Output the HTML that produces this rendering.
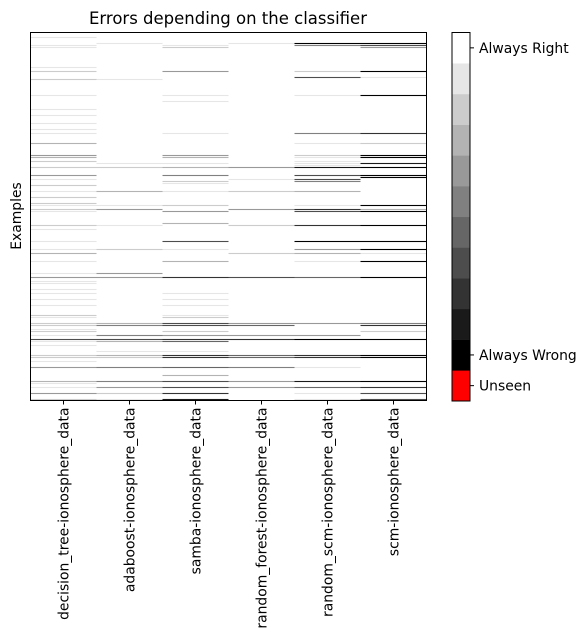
<!DOCTYPE html>
<html><head><meta charset="utf-8"><style>
html,body{margin:0;padding:0;background:#fff;}
svg{display:block;font-family:"DejaVu Sans","Liberation Sans",sans-serif;}
</style></head><body>
<svg id="chart" width="588" height="643" viewBox="0 0 588 643">
<text x="228" y="24" text-anchor="middle" font-size="16.5">Errors depending on the classifier</text>
<text transform="translate(21,216) rotate(-90)" text-anchor="middle" font-size="13.9">Examples</text>
<g id="cells"></g>
<rect x="30.5" y="32.5" width="396" height="368" fill="none" stroke="#000" stroke-width="1"/>
<g id="xticks"></g>
<g id="cbar"></g>
</svg>
<script>
const classifiers = ["decision_tree-ionosphere_data","adaboost-ionosphere_data","samba-ionosphere_data","random_forest-ionosphere_data","random_scm-ionosphere_data","scm-ionosphere_data"];
const nRows = 184;
// per classifier: [rowIndex, level] ; level 0 = always wrong ... 10 = always right
const colDecisionTree = [[2,9],[6,9],[7,9],[17,9],[19,8],[23,8],[31,9],[38,9],[41,9],[45,9],[48,9],[50,9],[55,7],[61,6],[62,7],[64,8],[67,8],[71,6],[73,9],[76,8],[79,9],[82,8],[85,8],[86,9],[88,8],[89,9],[96,8],[98,9],[104,9],[108,9],[110,7],[114,9],[120,9],[122,6],[124,9],[125,9],[128,9],[130,9],[133,9],[136,9],[141,8],[142,9],[145,8],[146,8],[148,9],[149,8],[151,9],[153,3],[154,9],[156,9],[161,8],[162,8],[164,9],[167,6],[174,7],[175,9],[177,9],[180,6],[183,8]];
const colAdaboost = [[5,9],[23,9],[65,9],[67,8],[79,7],[86,9],[88,6],[96,9],[108,8],[120,6],[122,6],[145,7],[146,5],[151,5],[153,3],[154,7],[159,9],[161,7],[162,8],[167,5],[174,5],[177,6],[180,8],[183,9]];
const colSamba = [[6,9],[7,8],[19,6],[31,9],[34,9],[50,9],[61,6],[62,7],[65,9],[67,7],[71,5],[74,8],[75,9],[79,9],[86,8],[89,6],[95,7],[104,3],[108,9],[114,7],[122,2],[130,9],[133,9],[136,9],[141,9],[142,8],[145,3],[146,3],[149,8],[151,6],[153,2],[154,4],[159,9],[161,2],[162,2],[167,4],[171,7],[174,3],[177,3],[180,2],[183,1]];
const colRandomForest = [[5,9],[67,6],[73,9],[79,8],[88,6],[96,8],[110,8],[122,3],[145,6],[146,4],[151,6],[153,2],[161,4],[162,4],[167,5],[174,6],[177,6]];
const colRandomScm = [[5,0],[6,5],[19,8],[22,3],[31,9],[50,5],[55,9],[61,8],[62,9],[64,9],[65,9],[66,9],[67,1],[71,3],[73,3],[74,5],[79,7],[86,9],[88,2],[89,3],[96,2],[104,0],[108,6],[110,7],[114,9],[122,4],[145,6],[151,6],[153,0],[161,2],[162,2],[167,9],[174,1],[177,4],[180,9],[183,9]];
const colScm = [[5,0],[6,3],[7,6],[19,0],[22,9],[31,0],[50,2],[55,8],[61,0],[62,0],[65,1],[67,0],[71,0],[72,0],[86,0],[88,7],[89,0],[96,0],[104,0],[108,0],[110,9],[114,0],[122,0],[145,5],[146,2],[149,8],[153,0],[161,0],[162,0],[174,0],[177,2],[180,3],[183,3]];
const columns = [colDecisionTree,colAdaboost,colSamba,colRandomForest,colRandomScm,colScm];
const cbarLevels = ["Unseen",0,1,2,3,4,5,6,7,8,9,10];
const cbarTicks = [["Always Right",11],["Always Wrong",1],["Unseen",0]];

const NS="http://www.w3.org/2000/svg";
const X0=30.5,X1=426.5,Y0=32.5,Y1=400.5;
const colW=(X1-X0)/classifiers.length, rowH=(Y1-Y0)/nRows;
const markH=1.1;
const xScale=i=>X0+i*colW;
const yScale=r=>Y0+r*rowH+(rowH-markH)/2;
const grayOf=l=>{const g=Math.round(255*l/10);return `rgb(${g},${g},${g})`;};
function mk(tag,attrs,parent){const e=document.createElementNS(NS,tag);for(const k in attrs)e.setAttribute(k,attrs[k]);parent.appendChild(e);return e;}
const cells=document.getElementById('cells');
columns.forEach((col,ci)=>{
  col.forEach(([r,l])=>{
    const e=mk('rect',{x:xScale(ci),y:yScale(r),width:colW,height:markH,fill:grayOf(l)},cells);
    
    
  });
});
const xt=document.getElementById('xticks');
classifiers.forEach((c,i)=>{
  const cx=xScale(i)+colW/2;
  const t=mk('line',{x1:cx,x2:cx,y1:Y1,y2:Y1+4,stroke:'#000'},xt);
  
  
  const tx=mk('text',{transform:`translate(${cx+5},${Y1+7}) rotate(-90)`,'text-anchor':'end','font-size':'13.9'},xt);
  tx.textContent=c;
  
  
});
const cb=document.getElementById('cbar');
const CX=452,CW=18,CY0=32.5,CY1=401;
const binH=(CY1-CY0)/cbarLevels.length;
const binY=i=>CY1-(i+1)*binH;
cbarLevels.forEach((lv,i)=>{
  const e=mk('rect',{x:CX,y:binY(i),width:CW,height:binH+0.3,fill:lv==="Unseen"?'#ff0000':grayOf(lv)},cb);
  
  
});
const fr=mk('rect',{x:CX,y:CY0,width:CW,height:CY1-CY0,fill:'none',stroke:'#000'},cb);


cbarTicks.forEach(([lab,i])=>{
  const cy=binY(i)+binH/2;
  const t=mk('line',{x1:CX+CW,x2:CX+CW+4,y1:cy,y2:cy,stroke:'#000'},cb);
  
  
  const tx=mk('text',{x:CX+CW+9,y:cy+5,'font-size':'13.9'},cb);
  tx.textContent=lab;
  
  
});
</script>
</body></html>
